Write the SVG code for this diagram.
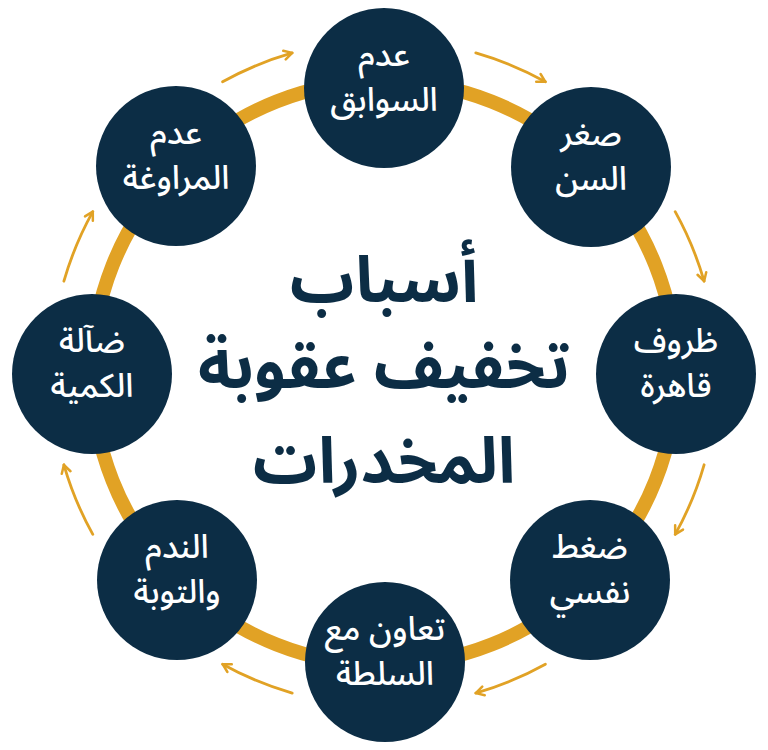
<svg xmlns="http://www.w3.org/2000/svg" width="768" height="750" viewBox="0 0 768 750">
<style>
.ring{fill:none;stroke:#E1A225;stroke-width:14}
.node{fill:#0C2D45}
.lbl{fill:#FFFFFF;font-family:'Noto Sans Arabic','DejaVu Sans',sans-serif;font-size:33px;font-weight:500;text-anchor:middle;direction:rtl}
.title{fill:#0C2D45;font-family:'Noto Sans Arabic','DejaVu Sans',sans-serif;font-size:64px;font-weight:700;text-anchor:middle;direction:rtl}
.arr{fill:none;stroke:#E1A225;stroke-width:2.8;stroke-linecap:round;marker-end:url(#head)}
</style>
<defs>
<marker id="head" viewBox="0 0 12 12" markerWidth="12" markerHeight="12" refX="10" refY="6" orient="auto" markerUnits="userSpaceOnUse">
<path d="M2,1.5 L10,6 L2,10.5" fill="none" stroke="#E1A225" stroke-width="2.5" stroke-linecap="round" stroke-linejoin="round"/>
</marker>
</defs>
<rect width="768" height="750" fill="#FFFFFF"/>
<circle class="ring" cx="384" cy="373" r="292"/>
<g id="connectors">
<path class="arr" d="M475.8,52.9 A333,333 0 0 1 545.4,81.8"/>
<path class="arr" d="M675.2,211.6 A333,333 0 0 1 704.1,281.2"/>
<path class="arr" d="M704.1,464.8 A333,333 0 0 1 675.2,534.4"/>
<path class="arr" d="M545.4,664.2 A333,333 0 0 1 475.8,693.1"/>
<path class="arr" d="M292.2,693.1 A333,333 0 0 1 222.6,664.2"/>
<path class="arr" d="M92.8,534.4 A333,333 0 0 1 63.9,464.8"/>
<path class="arr" d="M63.9,281.2 A333,333 0 0 1 92.8,211.6"/>
<path class="arr" d="M222.6,81.8 A333,333 0 0 1 292.2,52.9"/>
</g>
<g id="title">
<text class="title" x="384" y="302">أسباب</text>
<text class="title" x="384" y="388">تخفيف عقوبة</text>
<text class="title" x="384" y="483">المخدرات</text>
</g>
<g id="n1"><circle class="node" cx="384" cy="88" r="80"/><text class="lbl" x="384" y="66">عدم</text><text class="lbl" x="384" y="111">السوابق</text></g>
<g id="n2"><circle class="node" cx="591" cy="167" r="80"/><text class="lbl" x="591" y="145">صغر</text><text class="lbl" x="591" y="190">السن</text></g>
<g id="n3"><circle class="node" cx="676" cy="374" r="80"/><text class="lbl" x="676" y="352">ظروف</text><text class="lbl" x="676" y="397">قاهرة</text></g>
<g id="n4"><circle class="node" cx="590" cy="580" r="80"/><text class="lbl" x="590" y="558">ضغط</text><text class="lbl" x="590" y="603">نفسي</text></g>
<g id="n5"><circle class="node" cx="385" cy="662" r="80"/><text class="lbl" x="385" y="640">تعاون مع</text><text class="lbl" x="385" y="685">السلطة</text></g>
<g id="n6"><circle class="node" cx="177" cy="580" r="80"/><text class="lbl" x="177" y="558">الندم</text><text class="lbl" x="177" y="603">والتوبة</text></g>
<g id="n7"><circle class="node" cx="92" cy="374" r="80"/><text class="lbl" x="92" y="352">ضآلة</text><text class="lbl" x="92" y="397">الكمية</text></g>
<g id="n8"><circle class="node" cx="176" cy="166" r="80"/><text class="lbl" x="176" y="144">عدم</text><text class="lbl" x="176" y="189">المراوغة</text></g>
</svg>
